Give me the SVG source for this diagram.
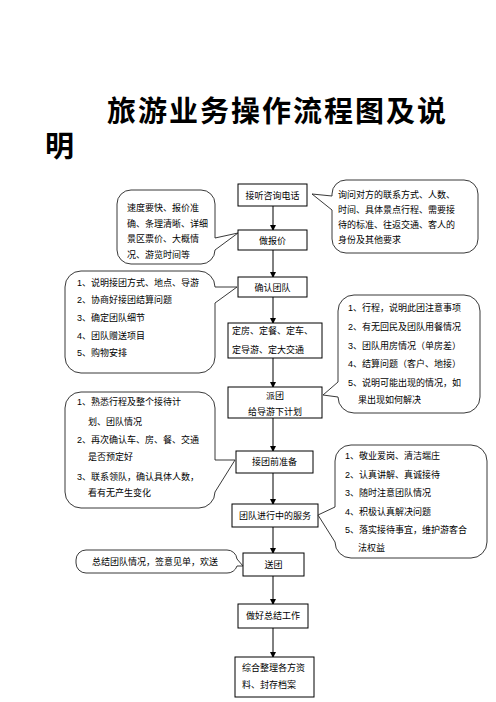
<svg xmlns="http://www.w3.org/2000/svg" width="496" height="702" viewBox="0 0 496 702">
<style>
.t{font-family:"Liberation Sans","Noto Sans CJK SC",sans-serif;font-size:9px;fill:#000}
.c{text-anchor:middle}
.title{font-family:"Noto Sans CJK SC",sans-serif;font-size:29px;font-weight:bold;fill:#000}
.box{fill:#fff;stroke:#000;stroke-width:1}
.call{fill:#fff;stroke:#222;stroke-width:0.9}
.ln{stroke:#000;stroke-width:1;fill:none;marker-end:url(#ah)}
</style>
<defs>
<marker id="ah" markerWidth="6" markerHeight="6" refX="5" refY="3" orient="auto" markerUnits="userSpaceOnUse">
<path d="M0,0 L6,3 L0,6 Z" fill="#000"/>
</marker>
</defs>
<rect width="496" height="702" fill="#fff"/>
<g id="title">
<text class="title" x="107" y="122" letter-spacing="2">旅游业务操作流程图及说</text>
<text class="title" x="45" y="157">明</text>
</g>
<g id="connectors">
<line class="ln" x1="273" y1="206" x2="273" y2="230"/>
<line class="ln" x1="273" y1="250" x2="273" y2="277"/>
<line class="ln" x1="273" y1="297" x2="273" y2="323"/>
<line class="ln" x1="273" y1="358" x2="273" y2="387"/>
<line class="ln" x1="273" y1="418" x2="273" y2="451"/>
<line class="ln" x1="273" y1="473" x2="273" y2="504"/>
<line class="ln" x1="273" y1="527" x2="273" y2="553"/>
<line class="ln" x1="273" y1="576" x2="273" y2="604"/>
<line class="ln" x1="273" y1="628" x2="273" y2="657"/>
</g>
<g id="n1"><rect class="box" x="238" y="184" width="69" height="22"/><text class="t c" x="272.5" y="198.5">接听咨询电话</text></g>
<g id="n2"><rect class="box" x="238" y="230" width="69" height="20"/><text class="t c" x="272.5" y="243.5">做报价</text></g>
<g id="n3"><rect class="box" x="238" y="277" width="69" height="20"/><text class="t c" x="272.5" y="290.5">确认团队</text></g>
<g id="n4"><rect class="box" x="228" y="323" width="94" height="35"/><text class="t" x="232" y="334">定房、定餐、定车、</text><text class="t" x="232" y="353">定导游、定大交通</text></g>
<g id="n5"><rect class="box" x="228" y="387" width="94" height="31"/><text class="t c" x="275" y="399">派团</text><text class="t c" x="275" y="415">给导游下计划</text></g>
<g id="n6"><rect class="box" x="236" y="451" width="77" height="22"/><text class="t c" x="274.5" y="465">接团前准备</text></g>
<g id="n7"><rect class="box" x="232" y="504" width="86" height="23"/><text class="t c" x="275" y="518.5">团队进行中的服务</text></g>
<g id="n8"><rect class="box" x="243" y="553" width="61" height="23"/><text class="t c" x="273.5" y="567.5">送团</text></g>
<g id="n9"><rect class="box" x="238" y="604" width="70" height="24"/><text class="t c" x="273" y="619">做好总结工作</text></g>
<g id="n10"><rect class="box" x="235" y="657" width="79" height="40"/><text class="t" x="242" y="671">综合整理各方资</text><text class="t" x="242" y="688">料、封存档案</text></g>
<g id="callA">
<path class="call" d="M131,190 H201 A14,14 0 0 1 215,204 V238 L238,233 L215,250 V250 A14,14 0 0 1 201,264 H131 A14,14 0 0 1 117,250 V204 A14,14 0 0 1 131,190 Z"/>
<text class="t" x="127" y="211">速度要快、报价准</text>
<text class="t" x="127" y="226.5">确、条理清晰、详细</text>
<text class="t" x="127" y="242">景区票价、大概情</text>
<text class="t" x="127" y="257.5">况、游览时间等</text>
</g>
<g id="callB">
<path class="call" d="M346,180 H464 A14,14 0 0 1 478,194 V239 A14,14 0 0 1 464,253 H346 A14,14 0 0 1 332,239 V210 L312,194 L332,196 V194 A14,14 0 0 1 346,180 Z"/>
<text class="t" x="338" y="198">询问对方的联系方式、人数、</text>
<text class="t" x="338" y="213">时间、具体景点行程、需要接</text>
<text class="t" x="338" y="228">待的标准、往返交通、客人的</text>
<text class="t" x="338" y="243">身份及其他要求</text>
</g>
<g id="callC">
<path class="call" d="M81,271 H199 A16,16 0 0 1 215,287 L237,287 L215,303 V357 A16,16 0 0 1 199,373 H81 A16,16 0 0 1 65,357 V287 A16,16 0 0 1 81,271 Z"/>
<text class="t" x="77" y="286">1、说明接团方式、地点、导游</text>
<text class="t" x="77" y="303">2、协商好接团结算问题</text>
<text class="t" x="77" y="321">3、确定团队细节</text>
<text class="t" x="77" y="339">4、团队赠送项目</text>
<text class="t" x="77" y="356">5、购物安排</text>
</g>
<g id="callD">
<path class="call" d="M354,295 H464 A16,16 0 0 1 480,311 V397 A16,16 0 0 1 464,413 H354 A16,16 0 0 1 338,397 L323,395 L338,382 V311 A16,16 0 0 1 354,295 Z"/>
<text class="t" x="348" y="311">1、行程，说明此团注意事项</text>
<text class="t" x="348" y="330">2、有无回民及团队用餐情况</text>
<text class="t" x="348" y="349">3、团队用房情况（单房差）</text>
<text class="t" x="348" y="367">4、结算问题（客户、地接）</text>
<text class="t" x="348" y="386">5、说明可能出现的情况，如</text>
<text class="t" x="358" y="403">果出现如何解决</text>
</g>
<g id="callE">
<path class="call" d="M81,392 H199 A16,16 0 0 1 215,408 V460 L235,460 L215,492 A16,16 0 0 1 199,508 H81 A16,16 0 0 1 65,492 V408 A16,16 0 0 1 81,392 Z"/>
<text class="t" x="77" y="405">1、熟悉行程及整个接待计</text>
<text class="t" x="88" y="425">划、团队情况</text>
<text class="t" x="77" y="443">2、再次确认车、房、餐、交通</text>
<text class="t" x="88" y="460">是否预定好</text>
<text class="t" x="77" y="480">3、联系领队，确认具体人数，</text>
<text class="t" x="88" y="496">看有无产生变化</text>
</g>
<g id="callF">
<path class="call" d="M351,445 H471 A16,16 0 0 1 487,461 V542 A16,16 0 0 1 471,558 H351 A16,16 0 0 1 335,542 L318,515 L335,507 V461 A16,16 0 0 1 351,445 Z"/>
<text class="t" x="345" y="459">1、敬业爱岗、清洁端庄</text>
<text class="t" x="345" y="478">2、认真讲解、真诚接待</text>
<text class="t" x="345" y="496">3、随时注意团队情况</text>
<text class="t" x="345" y="515">4、积极认真解决问题</text>
<text class="t" x="345" y="533">5、落实接待事宜，维护游客合</text>
<text class="t" x="358" y="551">法权益</text>
</g>
<g id="callG">
<path class="call" d="M86,550 H227 A10,10 0 0 1 237,559 L243,566 L237,566 A10,10 0 0 1 227,573 H86 A10,10 0 0 1 76,563 V560 A10,10 0 0 1 86,550 Z"/>
<text class="t" x="92" y="565">总结团队情况，签意见单，欢送</text>
</g>
</svg>
